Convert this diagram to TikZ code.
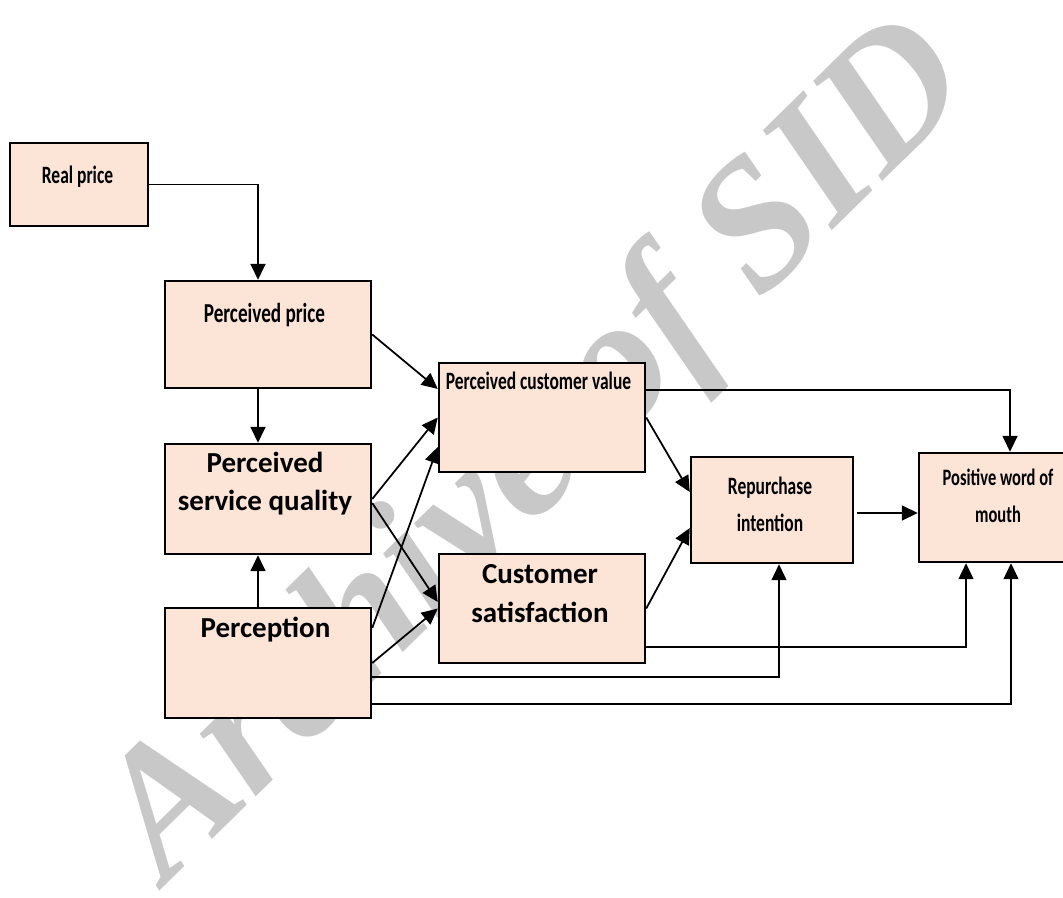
\documentclass[tikz,border=0pt]{standalone}
\usepackage{fontspec}
\usetikzlibrary{arrows.meta}
\newfontfamily\boxfont{Carlito}
\newfontfamily\narrowfont[FakeStretch=0.7]{Carlito}
\newfontfamily\markfont{Liberation Serif}
\definecolor{boxfill}{HTML}{FCE4D6}
\definecolor{markgray}{RGB}{200,200,200}
\tikzset{
  box/.style={draw, fill=boxfill, line width=0.7pt, inner sep=0pt},
  bigtxt/.style={font=\boxfont\bfseries\fontsize{8.25}{11}\selectfont, align=center, inner sep=0pt},
  smalltxt/.style={font=\narrowfont\bfseries\fontsize{#1}{10.6}\selectfont, align=center, inner sep=0pt},
  smalltxt/.default=7.1,
  link/.style={->, line width=0.5pt},
  >={Triangle[length=0.16cm,width=0.15cm]}
}
\begin{document}
\begin{tikzpicture}[scale=1.0]
\useasboundingbox (0,0) rectangle (10.63,8.97);
% watermark behind everything
\node[markgray, rotate=44.5, font=\markfont\bfseries\itshape\fontsize{52}{52}\selectfont] (mark) at (5.41,4.43) {Archive of SID};

% boxes
\node[box, minimum width=1.38cm, minimum height=0.83cm] (rp) at (0.79,7.125) {};
\node[box, minimum width=2.06cm, minimum height=1.07cm] (pp) at (2.68,5.625) {};
\node[box, minimum width=2.06cm, minimum height=1.10cm] (psq) at (2.68,3.98) {};
\node[box, minimum width=2.06cm, minimum height=1.10cm] (per) at (2.68,2.34) {};
\node[box, minimum width=2.06cm, minimum height=1.09cm] (pcv) at (5.42,4.795) {};
\node[box, minimum width=2.06cm, minimum height=1.09cm] (cs) at (5.42,2.885) {};
\node[box, minimum width=1.62cm, minimum height=1.06cm] (ri) at (7.72,3.87) {};
\node[box, minimum width=1.47cm, minimum height=1.09cm] (pwom) at (9.925,3.895) {};

% texts
\node[smalltxt, anchor=base] (rpt) at (0.775,7.14) {Real price};
\node[smalltxt=7.8, anchor=base] (ppt) at (2.645,5.743) {Perceived price};
\node[smalltxt, anchor=base] (pcvt) at (5.385,5.08) {Perceived customer value};
\node[bigtxt, anchor=north] (psqt) at (2.65,4.46) {Perceived\\service quality};
\node[bigtxt, anchor=base] (pert) at (2.655,2.60) {Perception};
\node[bigtxt, anchor=north] (cst) at (5.40,3.33) {Customer\\satisfaction};
\node[smalltxt, anchor=north] (rit) at (7.70,4.21) {Repurchase\\intention};
\node[smalltxt=6.7, anchor=north] (pwomt) at (9.98,4.29) {Positive word of\\mouth};

% links
\draw[link] (rp.east) -| ([xshift=-0.1cm]pp.north);
\draw[link] (pp.east) -- ([yshift=0.285cm]pcv.west);
\draw[link] ([xshift=-0.1cm]pp.south) -- ([xshift=-0.1cm]psq.north);
\draw[link] ([xshift=-0.1cm]per.north) -- ([xshift=-0.1cm]psq.south);
\draw[link] (psq.east) -- (pcv.west);
\draw[link] ([yshift=-0.04cm]psq.east) -- ([yshift=0.065cm]cs.west);
\draw[link] ([yshift=0.35cm]per.east) -- ([yshift=-0.295cm]pcv.west);
\draw[link] (per.east) -- (cs.west);
\draw[link] ([yshift=0.275cm]pcv.east) -| ([xshift=0.175cm]pwom.north);
\draw[link] (pcv.east) -- ([yshift=0.18cm]ri.west);
\draw[link] (cs.east) -- ([yshift=-0.18cm]ri.west);
\draw[link] ([xshift=0.03cm,yshift=-0.03cm]ri.east) -- ([yshift=-0.055cm]pwom.west);

% long links along the bottom
\draw[link, line width=0.4pt] ([yshift=-0.385cm]cs.east) -| ([xshift=-0.265cm]pwom.south);
\draw[link, line width=0.4pt] ([yshift=-0.14cm]per.east) -| ([xshift=0.07cm]ri.south);
\draw[link, line width=0.4pt] ([yshift=-0.41cm]per.east) -| ([xshift=0.185cm]pwom.south);
\end{tikzpicture}
\end{document}
